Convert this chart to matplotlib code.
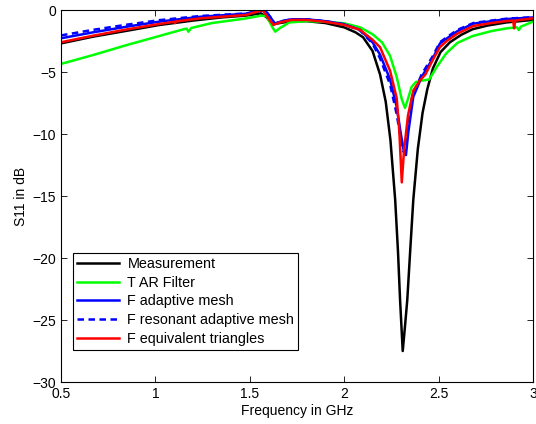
import matplotlib
matplotlib.use("Agg")
import matplotlib.pyplot as plt
import numpy as np

plt.rcParams['font.family'] = ['Liberation Sans', 'DejaVu Sans']
plt.rcParams['font.size'] = 10

# measured S11 (black)
f_meas = [0.5, 0.67, 0.85, 1.02, 1.2, 1.35, 1.48, 1.56, 1.59, 1.62, 1.66, 1.72,
          1.8, 1.9, 2.0, 2.06, 2.1, 2.15, 2.19, 2.22, 2.245, 2.27, 2.285, 2.296,
          2.31, 2.322, 2.334, 2.35, 2.366, 2.39, 2.415, 2.44, 2.47, 2.51, 2.56,
          2.62, 2.68, 2.76, 2.86, 3.0]
s_meas = [-2.69, -2.15, -1.67, -1.21, -0.85, -0.6, -0.45, -0.27, -0.6, -1.15,
          -1.05, -0.9, -0.9, -1.05, -1.4, -1.8, -2.2, -3.3, -5.2, -7.4, -10.5,
          -15.3, -19.5, -23.4, -27.5, -25.5, -23.4, -19.3, -15.3, -11.2, -8.3,
          -6.4, -4.7, -3.4, -2.6, -2.0, -1.55, -1.25, -1.0, -0.8]

# T AR Filter (green)
f_tar = [0.5, 0.67, 0.85, 1.02, 1.15, 1.165, 1.175, 1.19, 1.3, 1.48, 1.56, 1.59,
         1.62, 1.635, 1.66, 1.71, 1.8, 1.9, 2.0, 2.084, 2.15, 2.2, 2.243, 2.278,
         2.305, 2.322, 2.335, 2.357, 2.38, 2.41, 2.45, 2.49, 2.54, 2.6, 2.68,
         2.78, 2.86, 2.915, 2.925, 2.935, 3.0]
s_tar = [-4.35, -3.63, -2.82, -2.1, -1.55, -1.5, -1.75, -1.45, -1.05, -0.68,
         -0.45, -0.5, -1.4, -1.75, -1.45, -1.0, -0.9, -0.95, -1.07, -1.4, -1.95,
         -2.6, -3.7, -5.4, -7.2, -7.9, -7.3, -6.2, -5.8, -5.7, -5.6, -4.6, -3.5,
         -2.65, -2.1, -1.7, -1.48, -1.4, -1.62, -1.35, -0.94]

# F adaptive mesh (blue solid)
f_adm = [0.5, 0.67, 0.85, 1.02, 1.24, 1.48, 1.58, 1.61, 1.633, 1.67, 1.72, 1.8,
         1.9, 2.0, 2.084, 2.15, 2.19, 2.243, 2.278, 2.3, 2.315, 2.327, 2.34,
         2.366, 2.41, 2.47, 2.507, 2.543, 2.6, 2.684, 2.78, 2.86, 3.0]
s_adm = [-2.28, -1.8, -1.34, -0.94, -0.54, -0.3, 0.0, -0.6, -1.1, -0.9, -0.75,
         -0.75, -0.9, -1.15, -1.6, -2.6, -3.6, -5.6, -7.8, -10.0, -11.3, -11.7,
         -9.8, -7.0, -5.4, -3.9, -2.7, -2.3, -1.7, -1.1, -0.9, -0.73, -0.6]

# F resonant adaptive mesh (blue dashed)
f_res = [0.5, 0.67, 0.85, 1.02, 1.24, 1.48, 1.58, 1.61, 1.633, 1.67, 1.72, 1.8,
         1.9, 2.0, 2.084, 2.15, 2.19, 2.243, 2.278, 2.3, 2.312, 2.322, 2.336,
         2.36, 2.41, 2.47, 2.507, 2.543, 2.6, 2.684, 2.78, 2.86, 3.0]
s_res = [-2.05, -1.6, -1.18, -0.82, -0.48, -0.28, 0.0, -0.6, -1.1, -0.9, -0.75,
         -0.75, -0.9, -1.15, -1.65, -2.7, -3.9, -6.0, -8.4, -10.4, -11.4, -11.5,
         -9.6, -7.0, -5.2, -3.7, -2.6, -2.2, -1.6, -1.05, -0.85, -0.7, -0.58]

# F equivalent triangles (red)
f_eqt = [0.5, 0.67, 0.85, 1.02, 1.1, 1.105, 1.11, 1.24, 1.48, 1.568, 1.6, 1.625,
         1.66, 1.72, 1.8, 1.9, 2.0, 2.084, 2.15, 2.19, 2.243, 2.278, 2.292,
         2.305, 2.317, 2.338, 2.366, 2.4, 2.43, 2.47, 2.507, 2.543, 2.6, 2.684,
         2.78, 2.86, 2.895, 2.9, 2.906, 3.0]
s_eqt = [-2.6, -2.07, -1.56, -1.13, -0.95, -1.05, -0.92, -0.67, -0.4, 0.0, -0.7,
         -1.2, -1.0, -0.8, -0.8, -0.95, -1.2, -1.6, -2.4, -3.0, -4.9, -7.1, -9.8,
         -13.9, -11.3, -8.5, -6.5, -5.7, -5.2, -4.0, -3.0, -2.5, -1.9, -1.29,
         -1.05, -0.89, -0.85, -1.48, -0.85, -0.67]

series = [
    ("Measurement", f_meas, s_meas, "black", "-"),
    ("T AR Filter", f_tar, s_tar, "#00ff00", "-"),
    ("F adaptive mesh", f_adm, s_adm, "blue", "-"),
    ("F resonant adaptive mesh", f_res, s_res, "blue", "--"),
    ("F equivalent triangles", f_eqt, s_eqt, "red", "-"),
]

fig = plt.figure(figsize=(5.36, 4.24), dpi=100)
ax = fig.add_axes([0.1138, 0.099, 0.8806, 0.8774])

for name, f, s, c, ls in series:
    line, = ax.plot(f, s, color=c, linestyle=ls, linewidth=1.8, label=name)
    if ls == "--":
        line.set_dashes((2.6, 1.8))

ax.set_xlim(0.5, 3)
ax.set_ylim(-30, 0)
ax.set_xticks([0.5, 1, 1.5, 2, 2.5, 3])
ax.set_xticklabels(["0.5", "1", "1.5", "2", "2.5", "3"])
ax.set_yticks([-30, -25, -20, -15, -10, -5, 0])
ax.tick_params(direction="in", top=True, right=True, length=4, width=0.6)
for sp in ax.spines.values():
    sp.set_linewidth(0.8)

ax.set_xlabel("Frequency in GHz", labelpad=2)
ax.set_ylabel("S11 in dB", labelpad=3)

leg = ax.legend(loc="lower left", bbox_to_anchor=(0.025, 0.086), fancybox=False,
                framealpha=1, edgecolor="black", handlelength=2.9,
                labelspacing=0.33, borderaxespad=0, handletextpad=0.6,
                borderpad=0.28, fontsize=10.4)
leg.get_frame().set_linewidth(0.8)

fig.savefig("out.png", dpi=100)
